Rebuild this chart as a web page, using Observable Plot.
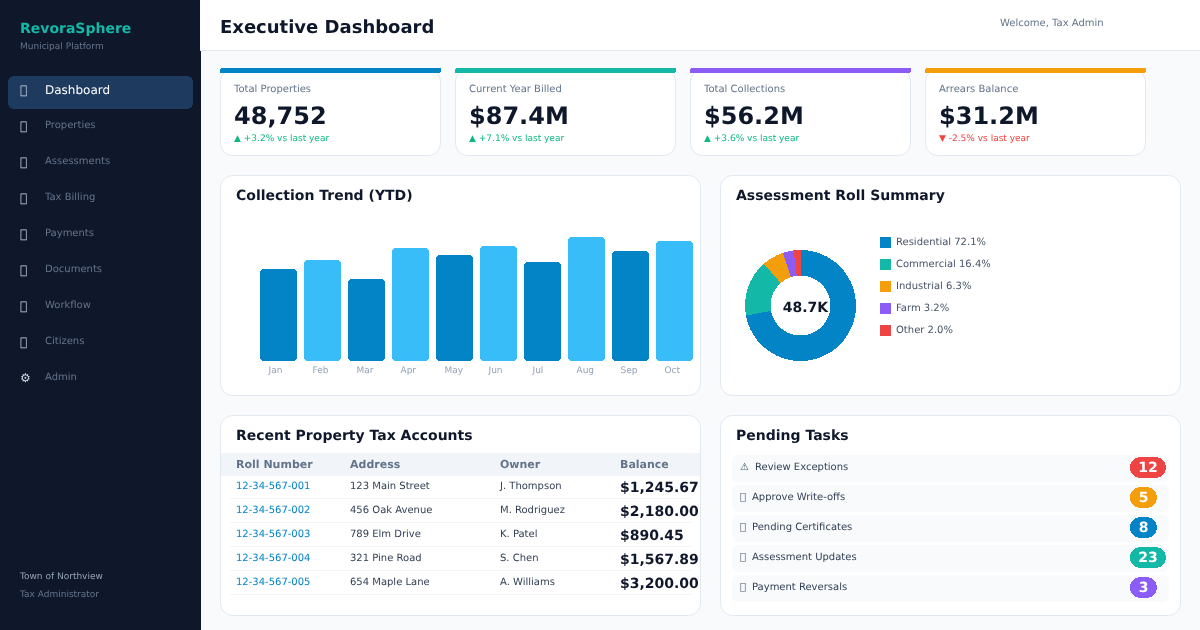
<!DOCTYPE html>
<html lang="en">
<head>
<meta charset="utf-8">
<title>Executive Dashboard</title>
<script src="https://cdn.jsdelivr.net/npm/d3@7"></script>
<script src="https://cdn.jsdelivr.net/npm/@observablehq/plot@0.6"></script>
<style>
  html, body { margin: 0; padding: 0; background: #f8fafc; overflow: hidden; }
  #page { position: relative; width: 1200px; height: 630px; font-family: "DejaVu Sans", sans-serif; text-rendering: geometricPrecision; }
  #page > svg, #page > div { position: absolute; will-change: transform; }
  #chrome { left: 0; top: 0; }
  #bars { left: 220px; top: 176px; }
  #donut { left: 740px; top: 245px; }
  #bars svg, #donut svg { display: block; background: transparent; overflow: visible; }
  #bars rect, #donut path { shape-rendering: crispEdges; }
  #page text { text-rendering: geometricPrecision; }
</style>
</head>
<body>
<div id="page">
  <svg id="chrome" width="1200" height="630" viewBox="0 0 1200 630"></svg>
  <div id="bars"></div>
  <div id="donut"></div>
</div>
<script>
// ---------- data ----------
const brandName = "RevoraSphere";
const brandTagline = "Municipal Platform";
const pageTitle = "Executive Dashboard";
const welcomeText = "Welcome, Tax Admin";
const noGlyph = "\uE000";
const navIcons = [noGlyph, noGlyph, noGlyph, noGlyph, noGlyph, noGlyph, noGlyph, noGlyph, "⚙"];
const navLabels = ["Dashboard", "Properties", "Assessments", "Tax Billing", "Payments", "Documents", "Workflow", "Citizens", "Admin"];
const footerLines = ["Town of Northview", "Tax Administrator"];

const kpiLabels = ["Total Properties", "Current Year Billed", "Total Collections", "Arrears Balance"];
const kpiValues = ["48,752", "$87.4M", "$56.2M", "$31.2M"];
const kpiDeltas = ["▲ +3.2% vs last year", "▲ +7.1% vs last year", "▲ +3.6% vs last year", "▼ -2.5% vs last year"];
const kpiDeltaUp = [true, true, true, false];

const months = ["Jan", "Feb", "Mar", "Apr", "May", "Jun", "Jul", "Aug", "Sep", "Oct"];
const collections = [4.88, 5.36, 4.35, 5.99, 5.62, 6.10, 5.25, 6.58, 5.83, 6.36];
const monthTone = ["a", "b", "a", "b", "a", "b", "a", "b", "a", "b"];

const rollClasses = ["Residential", "Commercial", "Industrial", "Farm", "Other"];
const rollShares = [72.1, 16.4, 6.3, 3.2, 2.0];
const rollCentre = "48.7K";

const tableHeaders = ["Roll Number", "Address", "Owner", "Balance"];
const rollNumbers = ["12-34-567-001", "12-34-567-002", "12-34-567-003", "12-34-567-004", "12-34-567-005"];
const addresses = ["123 Main Street", "456 Oak Avenue", "789 Elm Drive", "321 Pine Road", "654 Maple Lane"];
const owners = ["J. Thompson", "M. Rodriguez", "K. Patel", "S. Chen", "A. Williams"];
const balances = ["$1,245.67", "$2,180.00", "$890.45", "$1,567.89", "$3,200.00"];

const taskIcons = ["⚠", noGlyph, noGlyph, noGlyph, noGlyph];
const taskLabels = ["Review Exceptions", "Approve Write-offs", "Pending Certificates", "Assessment Updates", "Payment Reversals"];
const taskCounts = [12, 5, 8, 23, 3];

// ---------- palette ----------
const blue = "#0284c7", sky = "#38bdf8", teal = "#14b8a6", amber = "#f59e0b", violet = "#8b5cf6", red = "#ef4444";
const ink = "#0f172a", slate = "#64748b", line = "#e2e8f0";
const accents = [blue, teal, violet, amber];
const rollColors = [blue, teal, amber, violet, red];
const taskColors = [red, amber, blue, teal, violet];

// ---------- page furniture ----------
const svg = d3.select("#chrome");
const box = (x, y, w, h, fill, o = {}) => {
  const r = svg.append("rect").attr("x", x).attr("y", y).attr("width", w).attr("height", h).attr("fill", fill);
  if (o.r) r.attr("rx", o.r);
  if (o.stroke) r.attr("stroke", o.stroke).attr("stroke-width", 1);
  if (o.crisp) r.attr("shape-rendering", "crispEdges");
  return r;
};
const label = (x, y, str, size, fill, o = {}) => svg.append("text").attr("x", x).attr("y", y)
  .attr("font-family", "'DejaVu Sans', sans-serif").attr("font-size", size).attr("fill", fill)
  .attr("font-weight", o.bold ? 700 : 400).attr("text-anchor", o.anchor || "start").text(str);

// sidebar
box(0, 0, 201, 630, ink);
box(200, 0, 1000, 50, "#ffffff");
box(200, 50, 1000, 1, line);
label(20, 33, brandName, 14, teal, {bold: true});
label(20, 49, brandTagline, 9, slate);
box(8, 76, 185, 33, "#1e3a5f", {r: 6, crisp: true});
navLabels.forEach((name, i) => {
  const active = i === 0;
  const y = active ? 94 : 128 + (i - 1) * 36;
  label(20, active ? y : y + 2, navIcons[i], 12, "#cbd5e1");
  label(45, y, name, active ? 12 : 10, active ? "#ffffff" : slate);
});
label(20, 579, footerLines[0], 9, "#94a3b8");
label(20, 597, footerLines[1], 9, slate);

// header
label(220, 33, pageTitle, 18, ink, {bold: true});
label(1000, 26, welcomeText, 10, slate);

// KPI cards
kpiLabels.forEach((name, i) => {
  const x = 220 + i * 235;
  box(x + 0.5, 69.5, 220, 86, "#ffffff", {r: 12, stroke: line});
  box(x, 68, 221, 5, accents[i], {r: 2, crisp: true});
  label(x + 14, 92, name, 10, slate);
  label(x + 14, 124, kpiValues[i], 24, ink, {bold: true});
  label(x + 14, 141, kpiDeltas[i], 9, kpiDeltaUp[i] ? "#10b981" : red);
});

// panels
[[220, 176, 480, 220, "Collection Trend (YTD)"], [720, 176, 460, 220, "Assessment Roll Summary"],
 [220, 416, 480, 200, "Recent Property Tax Accounts"], [720, 416, 460, 200, "Pending Tasks"]].forEach(([x, y, w, h, title]) => {
  box(x + 0.5, y - 0.5, w, h, "#ffffff", {r: 12, stroke: line});
  label(x + 16, y + 24, title, 14, ink, {bold: true});
});

// donut legend
rollClasses.forEach((name, i) => {
  const y = 237 + i * 22;
  box(880, y, 11, 11, rollColors[i]);
  label(896, y + 8, `${name} ${rollShares[i].toFixed(1)}%`, 10, "#475569");
});

// accounts table
box(221, 453, 479, 23, "#f1f5f9");
const columns = [236, 350, 500, 620];
tableHeaders.forEach((h, j) => label(columns[j], 468, h, 11, slate, {bold: true}));
rollNumbers.forEach((roll, i) => {
  const y = 489 + i * 24;
  label(columns[0], y, roll, 10, blue);
  label(columns[1], y, addresses[i], 10, "#334155");
  label(columns[2], y, owners[i], 10, "#334155");
  label(columns[3], y + 3, balances[i], 14, ink, {bold: true});
  box(230, y + 9, 461, 1, "#f1f5f9");
});

// tasks
taskLabels.forEach((name, i) => {
  const y = 455 + i * 30;
  box(732, y, 437, 27, "#f8fafc", {r: 6});
  label(740, y + 15, taskIcons[i], 10, "#475569");
  label(i === 0 ? 755 : 752, y + 15, name, 10, "#334155");
  const wide = String(taskCounts[i]).length > 1;
  box(1130, y + 2, wide ? 36 : 27, 21, taskColors[i], {r: 10.5, crisp: true});
  label(wide ? 1148 : 1143.5, y + 17, taskCounts[i], 14, "#ffffff", {bold: true, anchor: "middle"});
});

// ---------- collection bars ----------
const trend = months.map((month, i) => ({month, value: collections[i], tone: monthTone[i]}));
document.getElementById("bars").append(Plot.plot({
  width: 480, height: 219,
  marginTop: 53, marginBottom: 34, marginLeft: 33, marginRight: 0,
  style: {background: "transparent", fontFamily: "'DejaVu Sans', sans-serif"},
  x: {domain: months, padding: 0.159, label: null},
  y: {domain: [0, 7], axis: null},
  color: {domain: ["a", "b"], range: [blue, sky]},
  marks: [
    Plot.barY(trend, {x: "month", y: "value", fill: "tone", rx: 4}),
    Plot.axisX({tickSize: 0, tickPadding: 5, textAnchor: "start", dx: -10.5, fontSize: 9, fill: "#94a3b8", label: null})
  ]
}));

// ---------- roll donut: stacked shares mapped to angles ----------
const roll = rollClasses.map((name, i) => ({name, share: rollShares[i]}));
const arc = d3.arc().innerRadius(30).outerRadius(55.5);
document.getElementById("donut").append(Plot.plot({
  width: 121, height: 121, margin: 0,
  style: {background: "transparent", fontFamily: "'DejaVu Sans', sans-serif"},
  x: {domain: [0, 100], range: [0, 2 * Math.PI], axis: null},
  color: {domain: rollClasses, range: rollColors},
  marks: [
    Plot.barX(roll, {
      x: "share", fill: "name", order: null,
      render(index, scales, values, dims) {
        const g = d3.create("svg:g").attr("transform", `translate(${dims.width / 2},${dims.height / 2})`);
        for (const i of index) {
          g.append("path").attr("fill", values.fill[i])
            .attr("d", arc({startAngle: values.x1[i], endAngle: values.x2[i]}));
        }
        return g.node();
      }
    }),
    Plot.text([rollCentre], {frameAnchor: "middle", dx: 4.5, dy: 2, fontSize: 14, fontWeight: 700, fill: ink})
  ]
}));
</script>
</body>
</html>
